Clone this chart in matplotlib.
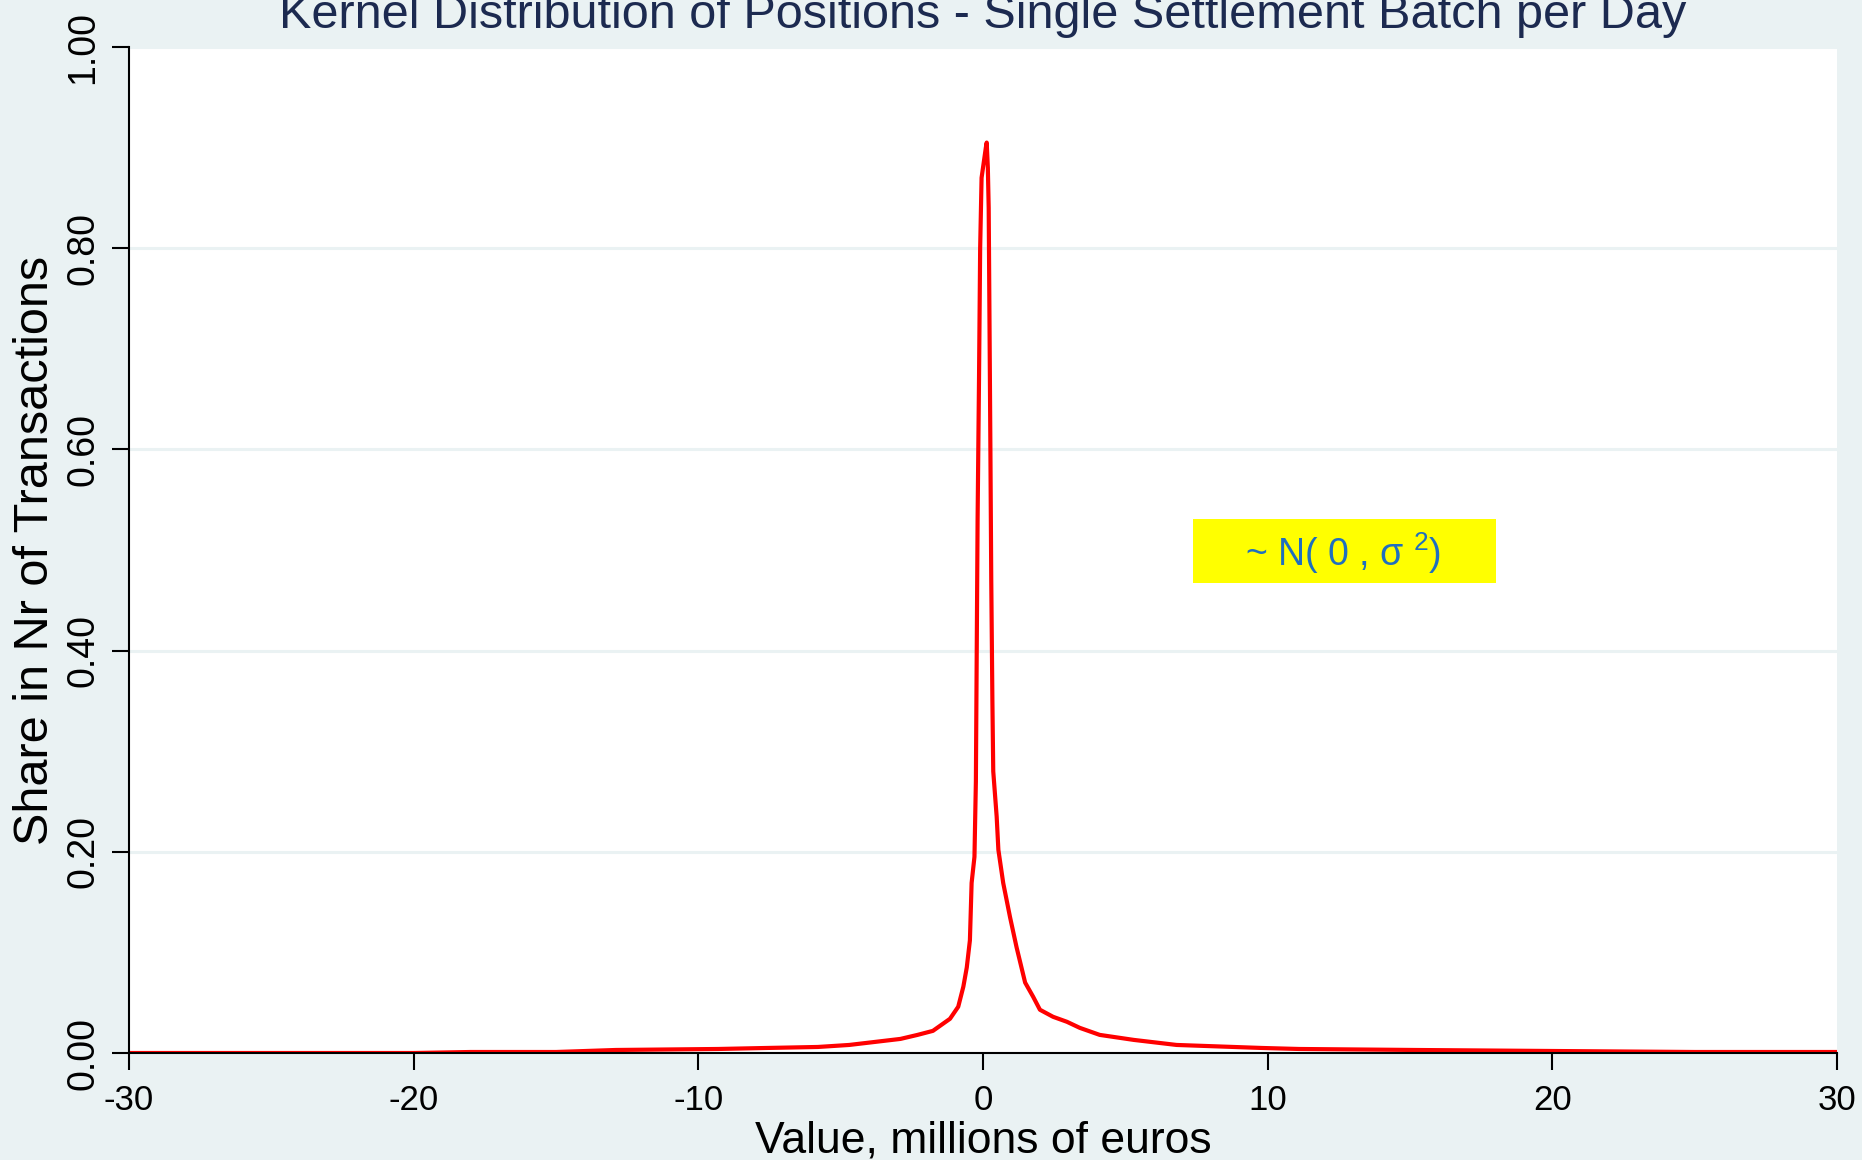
import matplotlib
matplotlib.use("Agg")
import matplotlib.pyplot as plt
from matplotlib.patches import Rectangle
import numpy as np

plt.rcParams['font.family'] = ['Liberation Sans', 'DejaVu Sans']
plt.rcParams['mathtext.fontset'] = 'custom'
plt.rcParams['mathtext.rm'] = 'Liberation Sans'

# kernel density
value = [-30, -20, -18, -15, -12.9, -9.3, -7.6, -5.8, -4.7, -4.1, -3.5, -2.9, -2.3,
         -1.76, -1.16, -0.87, -0.69, -0.57, -0.46, -0.40, -0.30, -0.25, -0.22, -0.19,
         -0.14, -0.10, -0.05, 0.0, 0.05, 0.10, 0.13, 0.17, 0.20, 0.23, 0.26, 0.29,
         0.33, 0.36, 0.48, 0.54, 0.71, 0.95, 1.18, 1.48, 1.76, 2.0, 2.46, 2.95, 3.4,
         4.1, 5.3, 6.8, 8.8, 9.8, 11.1, 15.2, 20, 25, 30]
share = [0.000, 0.000, 0.001, 0.001, 0.003, 0.004, 0.005, 0.006, 0.008, 0.010, 0.012,
         0.014, 0.018, 0.022, 0.034, 0.046, 0.066, 0.085, 0.112, 0.169, 0.195, 0.27,
         0.40, 0.53, 0.67, 0.80, 0.87, 0.88, 0.89, 0.90, 0.905, 0.88, 0.84, 0.72,
         0.60, 0.47, 0.35, 0.28, 0.235, 0.202, 0.169, 0.135, 0.105, 0.070, 0.056,
         0.043, 0.036, 0.031, 0.025, 0.018, 0.013, 0.008, 0.006, 0.005, 0.004,
         0.003, 0.002, 0.001, 0.001]

xticks = [-30, -20, -10, 0, 10, 20, 30]
yticks = [0.0, 0.2, 0.4, 0.6, 0.8, 1.0]

bg = '#EAF2F3'
fig = plt.figure(figsize=(18.62, 11.60), dpi=100, facecolor=bg)
ax = fig.add_axes([129/1862, 1-1053/1160, 1708/1862, 1006/1160])
ax.set_facecolor('white')

ax.plot(value, share, color='red', lw=3, zorder=3)

ax.set_xlim(-30, 30)
ax.set_ylim(0, 1)
ax.set_xticks(xticks)
ax.set_xticklabels([str(t) for t in xticks], fontsize=25)
ax.set_yticks(yticks)
ax.set_yticklabels(['%.2f' % t for t in yticks], rotation=90, va='center', fontsize=27)
ax.tick_params(axis='x', length=12, width=1.5, pad=10)
ax.tick_params(axis='y', length=12, width=1.5, pad=8)
ax.grid(axis='y', color=bg, lw=2.2, zorder=0)
for s in ['top', 'right']:
    ax.spines[s].set_visible(False)
for s in ['left', 'bottom']:
    ax.spines[s].set_linewidth(1.5)
    ax.spines[s].set_zorder(4)

# annotation box
ax.add_patch(Rectangle((7.38, 0.467), 10.65, 0.064, facecolor='#FFFF00',
                       edgecolor='none', zorder=2))
ax.text(12.65, 0.497, r'~ N( 0 , σ $^{2}$)', color='#1F6FBF', fontsize=27,
        ha='center', va='center', zorder=3)

fig.text(983/1862, 1-28/1160, 'Kernel Distribution of Positions - Single Settlement Batch per Day',
         ha='center', va='baseline', fontsize=35, color='#1C2A50')
fig.text(983/1862, 1-1152/1160, 'Value, millions of euros', ha='center', va='baseline',
         fontsize=32)
fig.text(36/1862, 1-550/1160, 'Share in Nr of Transactions', rotation=90,
         ha='center', va='center', fontsize=35)

fig.savefig('out.png', dpi=100, facecolor=bg)
